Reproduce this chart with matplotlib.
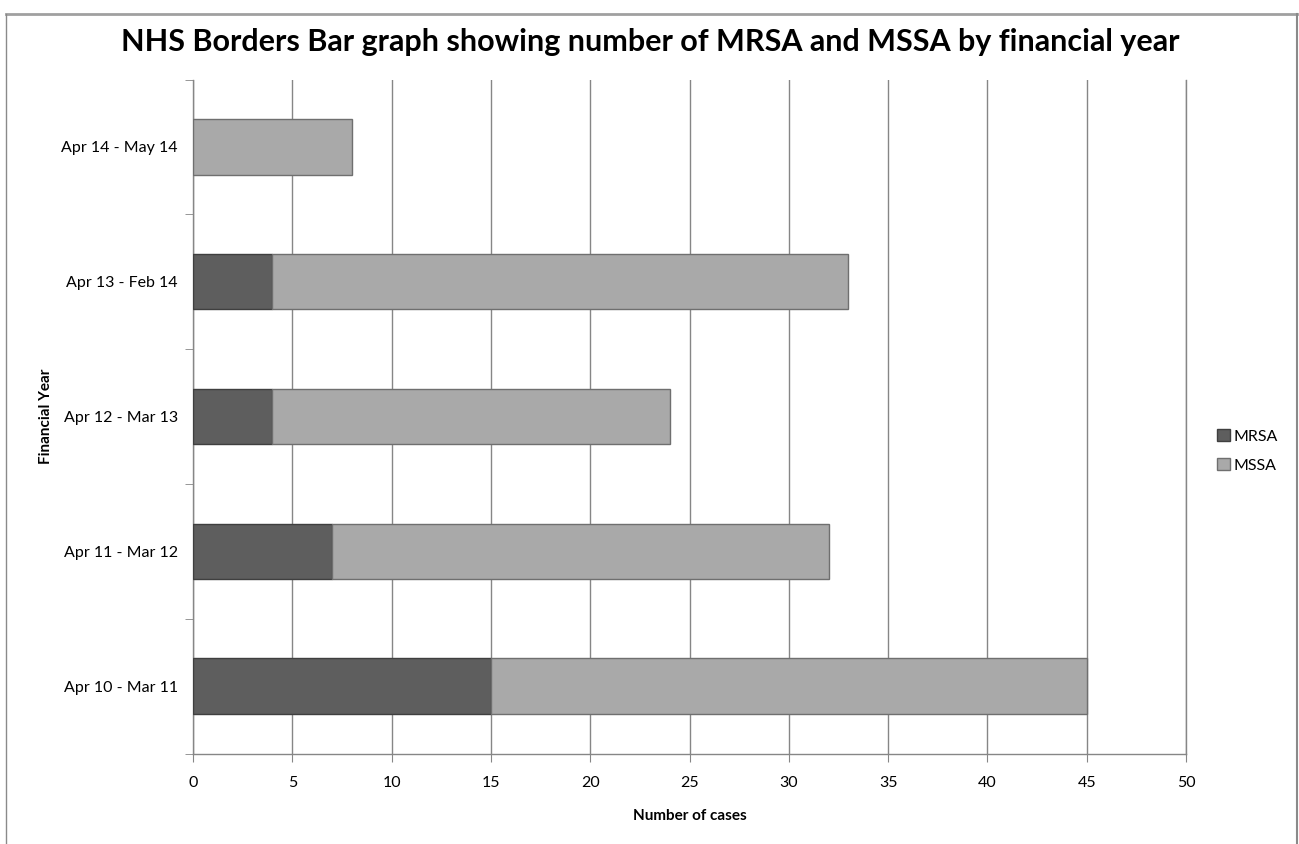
import matplotlib
matplotlib.use("Agg")
import matplotlib.pyplot as plt
from matplotlib.lines import Line2D
from matplotlib.patches import Patch
import numpy as np

plt.rcParams['font.family'] = ['Lato', 'DejaVu Sans']

categories = ["Apr 10 - Mar 11", "Apr 11 - Mar 12", "Apr 12 - Mar 13",
              "Apr 13 - Feb 14", "Apr 14 - May 14"]
mrsa = [15, 7, 4, 4, 0]
mssa = [30, 25, 20, 29, 8]
x_ticks = [0, 5, 10, 15, 20, 25, 30, 35, 40, 45, 50]

fig = plt.figure(figsize=(12.99, 8.44), dpi=100)
ax = fig.add_axes([193/1299, 1-753.5/844, (1186-193)/1299, (753.5-79.5)/844])

y = np.arange(len(categories))
h = 0.41
c_mrsa = "#5e5e5e"
c_mssa = "#a9a9a9"
ax.barh(y, mrsa, height=h, color=c_mrsa, edgecolor="#3f3f3f", linewidth=1.0, zorder=3)
ax.barh(y, mssa, left=mrsa, height=h, color=c_mssa, edgecolor="#6f6f6f", linewidth=1.0, zorder=3)

ax.set_xlim(0, 50)
ax.set_ylim(-0.5, len(categories) - 0.5)
ax.set_xticks(x_ticks)
ax.set_xticklabels([str(v) for v in x_ticks], fontsize=11.5)
ax.set_yticks(y)
ax.set_yticklabels(categories, fontsize=11.5)
ax.set_yticks(np.arange(-0.5, len(categories), 1.0), minor=True)
ax.tick_params(axis='y', which='major', length=0, pad=11)
ax.tick_params(axis='y', which='minor', length=6, color="#868686", direction='out')
ax.tick_params(axis='x', length=6, color="#868686", direction='out', pad=10)
ax.grid(axis='x', color="#868686", linewidth=1.0, zorder=0)
ax.axvline(x_ticks[-1], color="#868686", linewidth=1.0, zorder=0, clip_on=False)
for s in ['top', 'right']:
    ax.spines[s].set_visible(False)
for s in ['left', 'bottom']:
    ax.spines[s].set_color("#868686")
    ax.spines[s].set_linewidth(1.0)

ax.set_xlabel("Number of cases", fontsize=11, fontweight='bold', labelpad=14)
ax.set_ylabel("Financial Year", fontsize=11, fontweight='bold', labelpad=6)

fig.text(650/1299, 1-42/844, "NHS Borders Bar graph showing number of MRSA and MSSA by financial year",
         ha='center', va='center', fontsize=22, fontweight='bold')

handles = [Patch(facecolor=c_mrsa, edgecolor="#3f3f3f"), Patch(facecolor=c_mssa, edgecolor="#6f6f6f")]
fig.legend(handles, ["MRSA", "MSSA"], loc='center left', bbox_to_anchor=(1203/1299, 1-451/844),
           frameon=False, fontsize=11.5, handlelength=0.8, handleheight=0.8, handletextpad=0.2,
           labelspacing=0.9)

# outer frame
fig.add_artist(Line2D([6/1299, 1297/1299], [1-14/844, 1-14/844], transform=fig.transFigure,
                      color="#a0a0a0", linewidth=2))
fig.add_artist(Line2D([6/1299, 6/1299], [0, 1-14/844], transform=fig.transFigure,
                      color="#8a8a8a", linewidth=1))
fig.add_artist(Line2D([1297/1299, 1297/1299], [0, 1-14/844], transform=fig.transFigure,
                      color="#8a8a8a", linewidth=1.5))

fig.savefig("out.png", dpi=100)
